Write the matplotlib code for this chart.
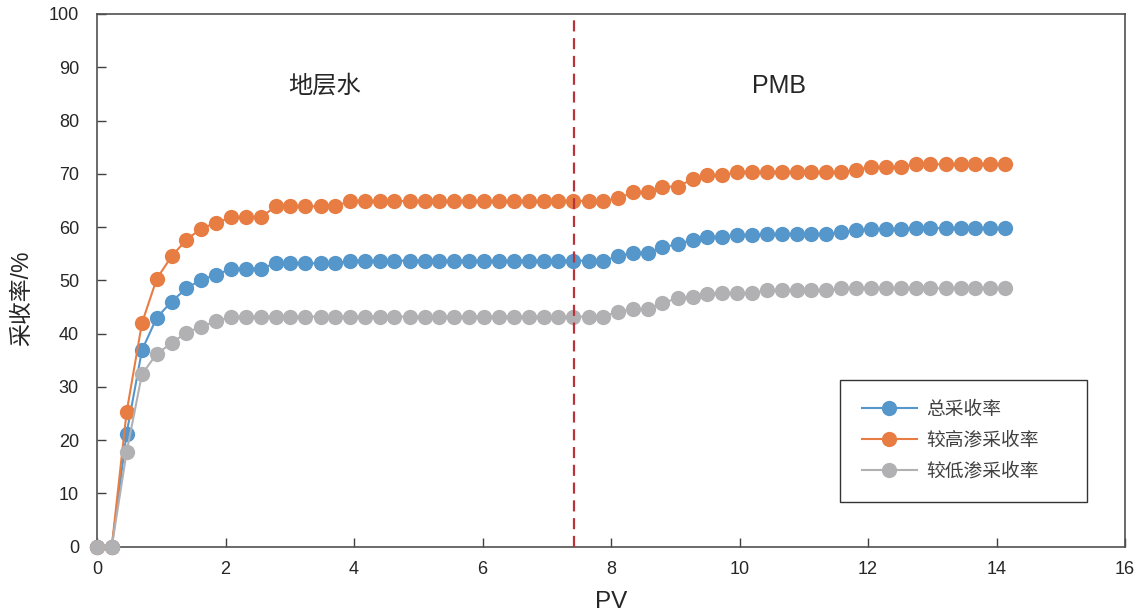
import matplotlib.pyplot as plt

plt.rcParams['font.family'] = ['Liberation Sans', 'Noto Sans CJK SC']
plt.rcParams['axes.unicode_minus'] = False

# Injected pore volumes
pv = [0.00, 0.23, 0.46, 0.70, 0.93, 1.16, 1.39, 1.62, 1.85, 2.09,
      2.32, 2.55, 2.78, 3.01, 3.24, 3.48, 3.71, 3.94, 4.17, 4.40,
      4.63, 4.87, 5.10, 5.33, 5.56, 5.79, 6.02, 6.26, 6.49, 6.72,
      6.95, 7.18, 7.41, 7.65, 7.88, 8.11, 8.34, 8.57, 8.80, 9.04,
      9.27, 9.50, 9.73, 9.96, 10.19, 10.43, 10.66, 10.89, 11.12, 11.35,
      11.58, 11.82, 12.05, 12.28, 12.51, 12.74, 12.97, 13.21, 13.44, 13.67,
      13.90, 14.13]

# Recovery factors (%)
total_rf = [0, 0, 21.2, 36.9, 43.0, 46.0, 48.5, 50.1, 51.0, 52.2,
            52.2, 52.2, 53.2, 53.2, 53.2, 53.2, 53.2, 53.7, 53.7, 53.7,
            53.7, 53.7, 53.7, 53.7, 53.7, 53.7, 53.7, 53.7, 53.7, 53.7,
            53.7, 53.7, 53.7, 53.7, 53.7, 54.5, 55.2, 55.2, 56.2, 56.8,
            57.6, 58.1, 58.2, 58.5, 58.5, 58.7, 58.7, 58.7, 58.7, 58.7,
            59.0, 59.4, 59.6, 59.6, 59.6, 59.8, 59.8, 59.8, 59.8, 59.8,
            59.8, 59.8]
high_perm_rf = [0, 0, 25.2, 42.0, 50.3, 54.5, 57.6, 59.7, 60.8, 61.8,
                61.8, 61.8, 63.9, 63.9, 63.9, 63.9, 63.9, 64.9, 64.9, 64.9,
                64.9, 64.9, 64.9, 64.9, 64.9, 64.9, 64.9, 64.9, 64.9, 64.9,
                64.9, 64.9, 64.9, 64.9, 64.9, 65.4, 66.5, 66.5, 67.6, 67.6,
                69.0, 69.7, 69.7, 70.3, 70.3, 70.3, 70.3, 70.3, 70.3, 70.3,
                70.3, 70.8, 71.3, 71.3, 71.3, 71.8, 71.8, 71.8, 71.8, 71.8,
                71.8, 71.8]
low_perm_rf = [0, 0, 17.7, 32.4, 36.2, 38.2, 40.2, 41.3, 42.3, 43.2,
               43.2, 43.2, 43.2, 43.2, 43.2, 43.2, 43.2, 43.2, 43.2, 43.2,
               43.2, 43.2, 43.2, 43.2, 43.2, 43.2, 43.2, 43.2, 43.2, 43.2,
               43.2, 43.2, 43.2, 43.2, 43.2, 44.1, 44.6, 44.6, 45.7, 46.7,
               46.8, 47.5, 47.6, 47.6, 47.6, 48.1, 48.1, 48.1, 48.1, 48.1,
               48.5, 48.5, 48.5, 48.5, 48.5, 48.5, 48.5, 48.5, 48.5, 48.5,
               48.5, 48.5]

switch_pv = 7.42  # formation water -> PMB

series = [
    (total_rf, '总采收率', '#5596CB'),
    (high_perm_rf, '较高渗采收率', '#E87D43'),
    (low_perm_rf, '较低渗采收率', '#B1B1B4'),
]

fig = plt.figure(figsize=(11.38, 6.13), dpi=100)
ax = fig.add_axes([97 / 1138, 1 - 546.7 / 613, 1028 / 1138, 532.7 / 613])

for vals, name, color in series:
    ax.plot(pv, vals, color=color, lw=1.5, marker='o', markersize=11,
            markeredgewidth=0, label=name, clip_on=False, zorder=3)

ax.axvline(switch_pv, color='#B8343A', lw=1.6, ls=(0, (5, 3)), ymax=0.993, zorder=4)

ax.text(3.55, 86.5, '地层水', fontsize=17.5, ha='center', va='center', color='#262626')
ax.text(10.61, 86.5, 'PMB', fontsize=18, ha='center', va='center', color='#262626')

ax.set_xlim(0, 16)
ax.set_ylim(0, 100)
ax.set_xticks(range(0, 17, 2))
ax.set_yticks(range(0, 101, 10))
ax.tick_params(direction='in', length=6.5, width=1, labelsize=13,
               colors='#404040', labelcolor='#262626')
ax.tick_params(axis='x', pad=10.5)
ax.tick_params(axis='y', pad=13)
for s in ax.spines.values():
    s.set_color('#505050')
    s.set_linewidth(1.2)

ax.set_xlabel('PV', fontsize=17.5, color='#262626')
ax.xaxis.set_label_coords(0.5, -0.083)
ax.set_ylabel('采收率/%', fontsize=16.5, color='#262626')
ax.yaxis.set_label_coords(-0.062, 0.467)

leg = ax.legend(loc='upper left', bbox_to_anchor=(0.723, 0.084, 0.24, 0.229),
                mode='expand', fontsize=13.5, frameon=True, fancybox=False,
                handlelength=2.93, handletextpad=0.53, labelspacing=0.72,
                borderpad=1.14, borderaxespad=0)
leg.get_frame().set_edgecolor('#000000')
leg.get_frame().set_linewidth(1.0)
for t in leg.get_texts():
    t.set_color('#404040')

fig.savefig('out.png', dpi=100)
